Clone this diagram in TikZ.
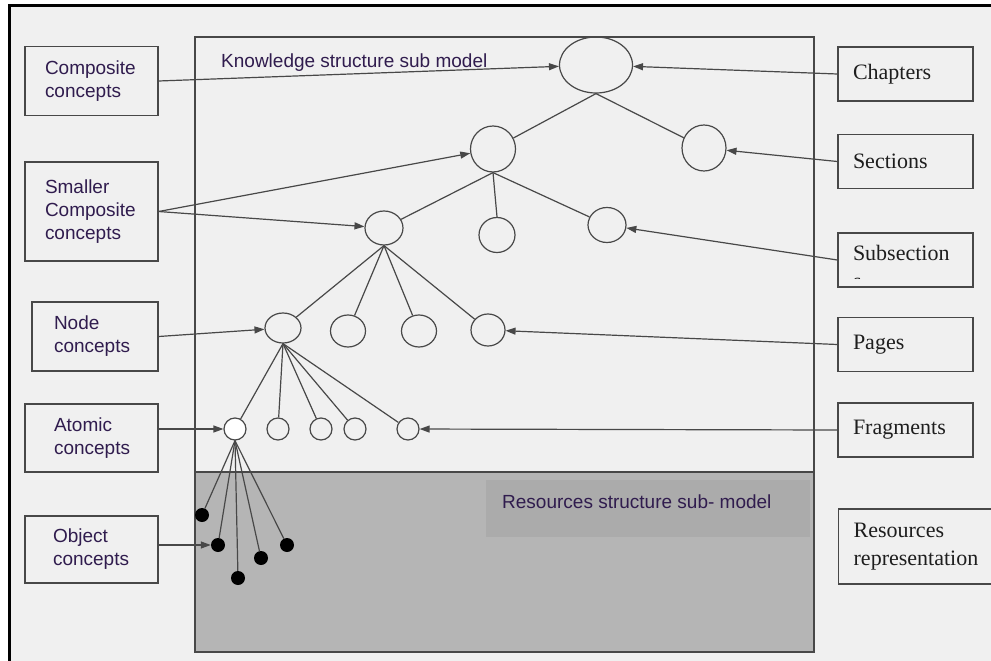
\documentclass[tikz,border=0pt]{standalone}
\usepackage{fontspec}
\newfontfamily\lsans{Liberation Sans}
\newfontfamily\lserif{Liberation Serif}
\usepackage{tikz}
\usetikzlibrary{shapes.geometric, arrows.meta}
\definecolor{pagebg}{RGB}{240,240,240}
\definecolor{resgray}{RGB}{181,181,181}
\definecolor{reslabel}{RGB}{171,171,171}
\definecolor{linegray}{RGB}{72,72,72}
\definecolor{textpurple}{RGB}{48,28,78}
\definecolor{textdark}{RGB}{30,30,30}
\tikzstyle{concept_box} = [rectangle, draw=linegray, line width=1.3pt, align=left, font=\lsans\fontsize{19}{23}\selectfont, text=textpurple, inner xsep=20pt, text width=93pt]
\tikzstyle{level_box} = [rectangle, draw=linegray, line width=1.3pt, align=left, font=\lserif\fontsize{22}{28}\selectfont, text=textdark, inner xsep=15pt, text width=105pt, minimum height=54pt]
\tikzstyle{tree_node} = [ellipse, draw=linegray, line width=1.2pt, inner sep=0pt]
\tikzstyle{object_node} = [circle, fill=black, inner sep=0pt, minimum size=14pt]
\tikzstyle{edge} = [linegray, line width=1.2pt]
\tikzstyle{arrow} = [edge, -{Triangle[length=10pt,width=7pt]}]
\tikzstyle{sub_label} = [font=\lsans\fontsize{19}{23}\selectfont, text=textpurple, anchor=west, inner sep=0pt]

\begin{document}
\begin{tikzpicture}[x=1pt, y=-1pt]
\useasboundingbox (0,0) rectangle (991,661);

% Frame and sub-model areas
\fill[pagebg] (9,6) rectangle (991,661);
\draw[black, line width=3pt] (9,661) -- (9,6) -- (991,6);
\draw[linegray, line width=1.5pt, fill=pagebg] (195,37) rectangle (814,652);
\draw[linegray, line width=1.5pt, fill=resgray] (195,472) rectangle (814,652);
\fill[reslabel] (486,480) rectangle (810,537);
\node[sub_label] (kslabel) at (221,63) {Knowledge structure sub model};
\node[sub_label] (rslabel) at (502,502) {Resources structure sub- model};

% Concept boxes (left)
\node[concept_box, minimum height=69pt] (composite) at (91.5,81) {Composite\\concepts};
\node[concept_box, minimum height=99pt] (smaller) at (91.5,211.5) {Smaller\\Composite\\concepts};
\node[concept_box, minimum height=69pt, inner xsep=22pt, text width=82pt] (nodec) at (95,336.5) {Node\\concepts};
\node[concept_box, minimum height=68pt, inner xsep=29pt, text width=75pt] (atomic) at (91.5,438) {Atomic\\concepts};
\node[concept_box, minimum height=67pt, inner xsep=28pt, text width=77pt] (object) at (91.5,549.5) {Object\\concepts};

% Level boxes (right)
\node[level_box] (chapters) at (905.5,74) {Chapters};
\node[level_box] (sections) at (905.5,161.5) {Sections};
\node[level_box] (subsec) at (905.5,260) {};
\begin{scope}
  \clip (subsec.north west) rectangle ([yshift=9pt]subsec.south east);
  \node[level_box, draw=none, anchor=north west, yshift=-7pt] (subsectext) at (subsec.north west) {Subsection\\s};
\end{scope}
\node[level_box] (pages) at (905.5,344.5) {Pages};
\node[level_box] (fragments) at (905.5,430) {Fragments};
\node[level_box, anchor=west, text width=128pt, minimum height=75pt] (resrep) at (838,546.5) {Resources\\representation};

% Tree
\node[tree_node, minimum width=73pt, minimum height=56pt] (root) at (596,65) {};
\node[tree_node, minimum width=45pt, minimum height=46pt] (secA) at (493,149) {};
\node[tree_node, minimum width=44pt, minimum height=46pt] (secB) at (704,148) {};
\node[tree_node, minimum width=38pt, minimum height=34pt] (subC) at (384,228) {};
\node[tree_node, minimum width=36pt, minimum height=35pt] (subD) at (497,235) {};
\node[tree_node, minimum width=38pt, minimum height=35pt] (subE) at (607,225) {};
\node[tree_node, minimum width=36pt, minimum height=30pt] (pageF) at (283,328) {};
\node[tree_node, minimum width=35pt, minimum height=32pt] (pageG) at (348,331) {};
\node[tree_node, minimum width=35pt, minimum height=32pt] (pageH) at (419,331) {};
\node[tree_node, minimum width=34pt, minimum height=32pt] (pageI) at (488,330) {};
\node[tree_node, minimum width=22pt, minimum height=22pt, fill=white] (fragJ) at (235,429) {};
\node[tree_node, minimum width=22pt, minimum height=22pt] (fragK) at (278,429) {};
\node[tree_node, minimum width=22pt, minimum height=22pt] (fragL) at (321,429) {};
\node[tree_node, minimum width=22pt, minimum height=22pt] (fragM) at (355,429) {};
\node[tree_node, minimum width=22pt, minimum height=22pt] (fragN) at (408,429) {};
\node[object_node] (obj1) at (202,515) {};
\node[object_node] (obj2) at (218,545) {};
\node[object_node] (obj3) at (238,578) {};
\node[object_node] (obj4) at (261,558) {};
\node[object_node] (obj5) at (287,545) {};

% Tree edges
\draw[edge] (root.south) -- (secA);
\draw[edge] (root.south) -- (secB);
\draw[edge] (secA.south) -- (subC);
\draw[edge] (secA.south) -- (subD.north);
\draw[edge] (secA.south) -- (subE);
\draw[edge] (subC.south) -- (pageF);
\draw[edge] (subC.south) -- (pageG);
\draw[edge] (subC.south) -- (pageH);
\draw[edge] (subC.south) -- (pageI);
\draw[edge] (pageF.south) -- (fragJ);
\draw[edge] (pageF.south) -- (fragK);
\draw[edge] (pageF.south) -- (fragL);
\draw[edge] (pageF.south) -- (fragM);
\draw[edge] (pageF.south) -- (fragN);
\draw[edge] (fragJ.south) -- (obj1);
\draw[edge] (fragJ.south) -- (obj2);
\draw[edge] (fragJ.south) -- (obj3);
\draw[edge] (fragJ.south) -- (obj4);
\draw[edge] (fragJ.south) -- (obj5);

% Arrows from the boxes
\draw[arrow] (composite.east) -- (root);
\draw[arrow] (smaller.east) -- (secA);
\draw[arrow] (smaller.east) -- (subC);
\draw[arrow] (nodec.east) -- (pageF);
\draw[arrow] (atomic.east |- fragJ) -- (fragJ);
\draw[arrow] (object.east |- obj2) -- (obj2);
\draw[arrow] (chapters.west) -- (root);
\draw[arrow] (sections.west) -- (secB);
\draw[arrow] (subsec.west) -- (subE);
\draw[arrow] (pages.west) -- (pageI);
\draw[arrow] (fragments.west) -- (fragN);

\end{tikzpicture}
\end{document}
